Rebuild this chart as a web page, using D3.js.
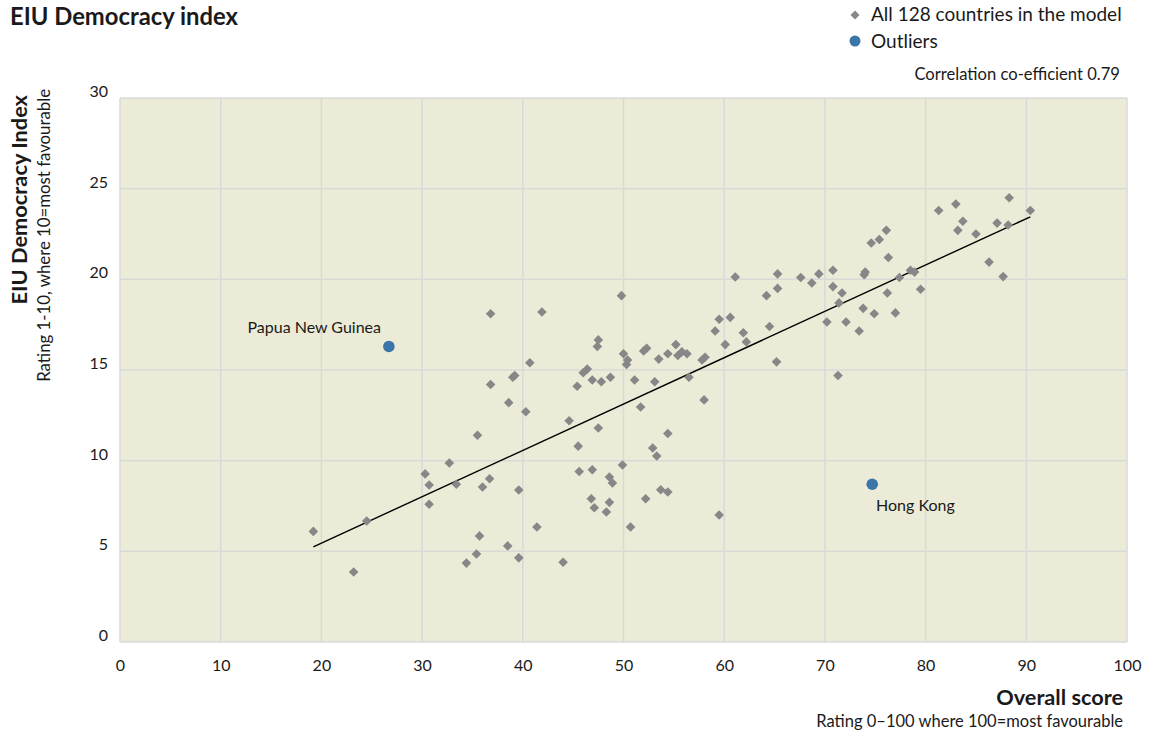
<!DOCTYPE html>
<html>
<head>
<meta charset="utf-8">
<script src="https://cdn.jsdelivr.net/npm/d3@7"></script>
<style>
  html, body { margin: 0; padding: 0; background: #ffffff; }
  svg { display: block; font-family: Lato, "Open Sans", sans-serif; }
</style>
</head>
<body>
<svg id="chart" width="1158" height="735"></svg>
<script>
// ---- data ----
const overallScore = [
  19.2, 23.2, 24.5, 30.3, 30.7, 30.7, 32.7, 33.4, 34.4, 35.4,
  35.5, 35.7, 36.0, 36.7, 36.8, 36.8, 38.5, 38.6, 39.0, 39.2,
  39.6, 39.6, 40.3, 40.7, 41.4, 41.9, 44.0, 44.6, 45.4, 45.5,
  45.6, 46.0, 46.4, 46.8, 46.9, 46.9, 47.1, 47.4, 47.5, 47.5,
  47.8, 48.3, 48.6, 48.6, 48.7, 48.9, 49.8, 49.9, 50.0, 50.3,
  50.4, 50.7, 51.1, 51.7, 52.0, 52.2, 52.3, 52.9, 53.1, 53.3,
  53.5, 53.7, 54.4, 54.4, 54.4, 55.2, 55.4, 55.8, 56.3, 56.5,
  57.8, 58.0, 58.1, 59.1, 59.5, 59.5, 60.1, 60.6, 61.1, 61.9,
  62.2, 64.2, 64.5, 65.2, 65.3, 65.3, 67.6, 68.7, 69.4, 70.2,
  70.8, 70.8, 71.3, 71.4, 71.7, 72.1, 73.4, 73.8, 73.9, 74.0,
  74.6, 74.9, 75.4, 76.1, 76.2, 76.3, 77.0, 77.4, 78.5, 78.9,
  79.5, 81.3, 83.0, 83.2, 83.7, 85.0, 86.3, 87.1, 87.7, 88.2,
  88.3, 90.4
];
const democracyIndex = [
  6.1, 3.86, 6.67, 9.27, 8.66, 7.6, 9.87, 8.7, 4.35, 4.85,
  11.4, 5.85, 8.55, 9.0, 14.2, 18.1, 5.3, 13.2, 14.6, 14.7,
  8.38, 4.64, 12.7, 15.4, 6.34, 18.2, 4.4, 12.2, 14.1, 10.8,
  9.4, 14.85, 15.05, 7.9, 14.45, 9.5, 7.4, 16.3, 16.66, 11.8,
  14.35, 7.17, 9.1, 7.7, 14.6, 8.77, 19.1, 9.76, 15.9, 15.3,
  15.55, 6.34, 14.45, 12.96, 16.05, 7.9, 16.2, 10.7, 14.35, 10.26,
  15.6, 8.4, 15.9, 8.27, 11.5, 16.4, 15.8, 16.0, 15.9, 14.6,
  15.55, 13.35, 15.7, 17.15, 17.8, 7.0, 16.4, 17.9, 20.13, 17.05,
  16.55, 19.1, 17.4, 15.45, 19.5, 20.3, 20.1, 19.8, 20.3, 17.65,
  20.5, 19.6, 14.7, 18.7, 19.25, 17.65, 17.15, 18.4, 20.25, 20.4,
  22.0, 18.1, 22.2, 22.7, 19.25, 21.2, 18.15, 20.1, 20.5, 20.4,
  19.45, 23.8, 24.15, 22.7, 23.2, 22.5, 20.95, 23.1, 20.15, 23.0,
  24.5, 23.8
];
const outlierNames = ["Papua New Guinea", "Hong Kong"];
const outlierScore = [26.7, 74.7];
const outlierIndex = [16.3, 8.7];
const trendScore = [19.2, 90.4];
const trendIndex = [5.25, 23.45];
const xTicks = [0, 10, 20, 30, 40, 50, 60, 70, 80, 90, 100];
const yTicks = [0, 5, 10, 15, 20, 25, 30];

// ---- layout ----
const svg = d3.select("#chart");
const pL = 120, pR = 1127, pT = 98, pB = 642;
const x = d3.scaleLinear().domain([0, 100]).range([pL, pR]);
const y = d3.scaleLinear().domain([0, 30]).range([pB, pT]);

const textCol = "#1a1a1a";

// background
svg.append("rect")
  .attr("x", pL).attr("y", pT)
  .attr("width", pR - pL).attr("height", pB - pT)
  .attr("fill", "#ecebd7");

// grid
const grid = svg.append("g").attr("stroke", "#d8dad8").attr("stroke-width", 1.5);
grid.selectAll("line.v").data(xTicks).join("line").attr("class", "v")
  .attr("x1", d => x(d)).attr("x2", d => x(d))
  .attr("y1", pT).attr("y2", pB);
grid.selectAll("line.h").data(yTicks).join("line").attr("class", "h")
  .attr("x1", pL).attr("x2", pR)
  .attr("y1", d => y(d)).attr("y2", d => y(d));

// axes (text only)
const xAxis = svg.append("g")
  .attr("transform", `translate(0,${pB})`)
  .call(d3.axisBottom(x).tickValues(xTicks).tickSize(0).tickPadding(18));
xAxis.select(".domain").remove();
xAxis.selectAll("text").attr("font-size", 16).attr("fill", textCol)
  .attr("font-family", "Lato, sans-serif");

const yAxis = svg.append("g")
  .attr("transform", `translate(${pL},0)`)
  .call(d3.axisLeft(y).tickValues(yTicks).tickSize(0).tickPadding(12));
yAxis.select(".domain").remove();
yAxis.selectAll("text").attr("font-size", 16).attr("fill", textCol)
  .attr("font-family", "Lato, sans-serif").attr("dy", "-0.1em");

// trend line
svg.append("line")
  .attr("x1", x(trendScore[0])).attr("y1", y(trendIndex[0]))
  .attr("x2", x(trendScore[1])).attr("y2", y(trendIndex[1]))
  .attr("stroke", "#000").attr("stroke-width", 1.4);

// diamonds
const diamond = d3.symbol().type(d3.symbolSquare).size(46);
svg.append("g").selectAll("path").data(overallScore.map((v, i) => [v, democracyIndex[i]]))
  .join("path")
  .attr("d", diamond)
  .attr("transform", d => `translate(${x(d[0])},${y(d[1])}) rotate(45)`)
  .attr("fill", "#878787");

// outliers
svg.append("g").selectAll("circle").data(outlierNames.map((n, i) => [outlierScore[i], outlierIndex[i], n]))
  .join("circle")
  .attr("cx", d => x(d[0])).attr("cy", d => y(d[1])).attr("r", 5.8)
  .attr("fill", "#3b76a8");

// outlier labels
svg.append("text").attr("x", 381).attr("y", 333).attr("text-anchor", "end")
  .attr("font-size", 16).attr("fill", textCol).text(outlierNames[0]);
svg.append("text").attr("x", 876).attr("y", 511).attr("text-anchor", "start")
  .attr("font-size", 16).attr("fill", textCol).text(outlierNames[1]);

// title
svg.append("text").attr("x", 10).attr("y", 25)
  .attr("font-size", 23.8).attr("font-weight", "bold").attr("fill", "#1a1a1a")
  .text("EIU Democracy index");

// legend
svg.append("path").attr("d", d3.symbol().type(d3.symbolSquare).size(40)())
  .attr("transform", "translate(855,15) rotate(45)").attr("fill", "#878787");
svg.append("text").attr("x", 871).attr("y", 21).attr("font-size", 19)
  .attr("fill", textCol).text("All 128 countries in the model");
svg.append("circle").attr("cx", 855).attr("cy", 41).attr("r", 5.5).attr("fill", "#3b76a8");
svg.append("text").attr("x", 871).attr("y", 48).attr("font-size", 19)
  .attr("fill", textCol).text("Outliers");
svg.append("text").attr("x", 1120).attr("y", 80).attr("text-anchor", "end")
  .attr("font-size", 16.6).attr("fill", textCol).text("Correlation co-efficient 0.79");

// y axis titles
svg.append("text").attr("transform", "translate(27,95) rotate(-90)")
  .attr("text-anchor", "end").attr("font-size", 21.8).attr("font-weight", "bold")
  .attr("fill", "#1a1a1a").text("EIU Democracy Index");
svg.append("text").attr("transform", "translate(50,89) rotate(-90)")
  .attr("text-anchor", "end").attr("font-size", 16.8)
  .attr("fill", textCol).text("Rating 1-10, where 10=most favourable");

// x axis titles
svg.append("text").attr("x", 1123).attr("y", 705).attr("text-anchor", "end")
  .attr("font-size", 21.7).attr("font-weight", "bold").attr("fill", "#1a1a1a")
  .text("Overall score");
svg.append("text").attr("x", 1123).attr("y", 727).attr("text-anchor", "end")
  .attr("font-size", 16.5).attr("fill", textCol)
  .text("Rating 0\u2013100 where 100=most favourable");
</script>
</body>
</html>
